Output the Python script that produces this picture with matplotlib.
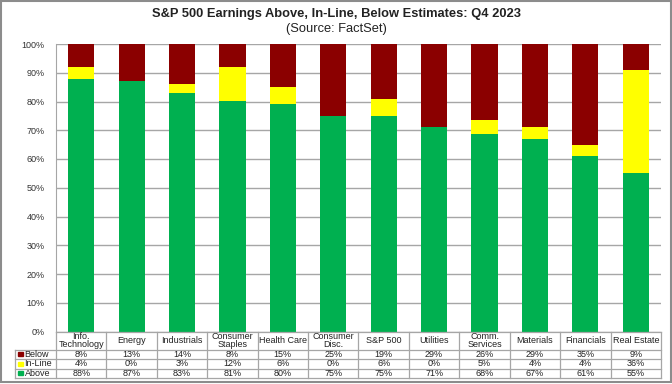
import matplotlib
matplotlib.use("Agg")
import matplotlib.pyplot as plt
from matplotlib.patches import Rectangle
import numpy as np

plt.rcParams['font.family'] = ['Liberation Sans', 'DejaVu Sans']

categories = ["Info.\nTechnology", "Energy", "Industrials", "Consumer\nStaples", "Health Care",
              "Consumer\nDisc.", "S&P 500", "Utilities", "Comm.\nServices", "Materials",
              "Financials", "Real Estate"]
below = [8, 13, 14, 8, 15, 25, 19, 29, 26, 29, 35, 9]
inline = [4, 0, 3, 12, 6, 0, 6, 0, 5, 4, 4, 36]
above = [88, 87, 83, 81, 80, 75, 75, 71, 68, 67, 61, 55]
yticks = [0, 10, 20, 30, 40, 50, 60, 70, 80, 90, 100]

c_below = "#8B0000"
c_inline = "#FFFF00"
c_above = "#00B050"
grid_c = "#A6A6A6"

W, H = 672, 384
fig = plt.figure(figsize=(W/100, H/100), dpi=100)

def rect(l, t, r, b):
    return [l/W, (H-b)/H, (r-l)/W, (b-t)/H]

ax = fig.add_axes(rect(56, 44, 661, 331.5))
x = np.arange(len(categories))
a = np.array(above, float); i_ = np.array(inline, float); b_ = np.array(below, float)
tot = a + i_ + b_
a_n, i_n, b_n = a / tot * 100, i_ / tot * 100, b_ / tot * 100
bw = 0.52
ax.bar(x, a_n, bw, color=c_above, zorder=3)
ax.bar(x, i_n, bw, bottom=a_n, color=c_inline, zorder=3)
ax.bar(x, b_n, bw, bottom=a_n + i_n, color=c_below, zorder=3)
ax.set_xlim(-0.5, len(categories) - 0.5)
ax.set_ylim(0, 100)
ax.set_yticks(yticks)
ax.set_yticklabels([f"{v}%" for v in yticks], fontsize=6.5, color="#333333")
ax.set_xticks([])
ax.grid(axis='y', color=grid_c, linewidth=1, zorder=0)
for s in ['top', 'right', 'bottom']:
    ax.spines[s].set_visible(False)
ax.spines['left'].set_color(grid_c)
ax.tick_params(axis='y', length=0, pad=8)

# table
tab = fig.add_axes(rect(15, 331.5, 661, 378))
px = 605 / len(categories)
xl = -0.5 - 41 / px
tab.set_xlim(xl, len(categories) - 0.5)
tab.set_ylim(0, 46.5)
tab.axis('off')
lc = grid_c
lw = 0.9
n = len(categories)
TOP = 46.5
r1, r2, r3 = 9.5, 19.0, 28.5
tab.plot([-0.5, n - 0.5], [TOP, TOP], color=lc, lw=lw, clip_on=False)
for yy in [r3, r2, r1, 0]:
    tab.plot([xl, n - 0.5], [yy, yy], color=lc, lw=lw, clip_on=False)
for k in range(n + 1):
    tab.plot([k - 0.5, k - 0.5], [0, TOP], color=lc, lw=lw, clip_on=False)
tab.plot([xl, xl], [0, r3], color=lc, lw=lw, clip_on=False)

fs = 6.5
tc = "#222222"
yb, yi, ya = (r2 + r3) / 2, (r1 + r2) / 2, r1 / 2
for k, cat in enumerate(categories):
    tab.text(k, (r3 + TOP) / 2, cat, ha='center', va='center', fontsize=fs, color=tc, linespacing=0.82)
    tab.text(k, yb, f"{below[k]}%", ha='center', va='center', fontsize=fs, color=tc)
    tab.text(k, yi, f"{inline[k]}%", ha='center', va='center', fontsize=fs, color=tc)
    tab.text(k, ya, f"{above[k]}%", ha='center', va='center', fontsize=fs, color=tc)

leg = [("Below", c_below, yb), ("In-Line", c_inline, yi), ("Above", c_above, ya)]
for name, col, yy in leg:
    tab.add_patch(Rectangle((xl + 3.5 / px, yy - 2.2), 4.2 / px, 4.4, color=col, clip_on=False))
    tab.text(xl + 9.5 / px, yy, name, ha='left', va='center', fontsize=fs, color=tc)

fig.text(0.5, 1 - 14/H, "S&P 500 Earnings Above, In-Line, Below Estimates: Q4 2023",
         ha='center', va='center', fontsize=9.3, fontweight='bold', color=tc)
fig.text(0.5, 1 - 29/H, "(Source: FactSet)", ha='center', va='center', fontsize=9.3, color=tc)

fig.patches.append(Rectangle((1/W, 2/H), (W - 2.5)/W, (H - 2.5)/H, transform=fig.transFigure,
                             fill=False, edgecolor="#8C8C8C", linewidth=1.5))

fig.savefig("out.png", dpi=100)
